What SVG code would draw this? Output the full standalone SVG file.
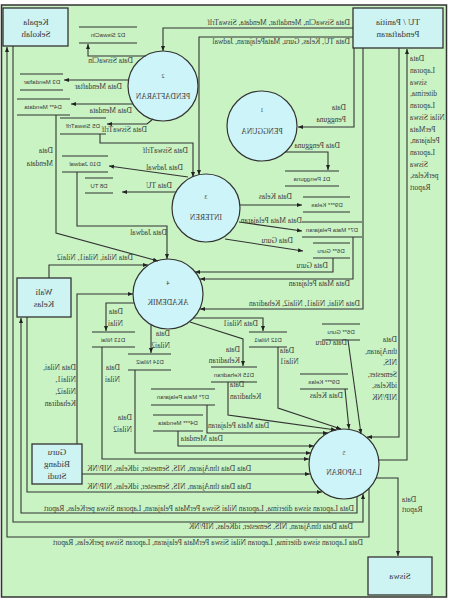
<svg xmlns="http://www.w3.org/2000/svg" width="450" height="605" viewBox="0 0 450 605">
<style>
text{fill:#3a3a3a;transform:scale(-1,1)}
.e{font:9px "Liberation Serif",serif;text-anchor:middle}
.p{font:7.5px "Liberation Serif",serif;text-anchor:middle}
.n{font:6px "Liberation Serif",serif;text-anchor:middle}
.s{font:6px "Liberation Sans",sans-serif;text-anchor:middle}
.l{font:7.5px "Liberation Serif",serif}
.r{text-anchor:start}
.lf{text-anchor:end}
.box{fill:#cdf3f3;stroke:#333;stroke-width:1.3}
.cir{fill:#cdf4f8;stroke:#333;stroke-width:1.2}
.st{fill:none;stroke:#333;stroke-width:1.2}
.c path{fill:none;stroke:#333;stroke-width:1.1;marker-end:url(#a)}
</style>
<defs>
<marker id="a" viewBox="0 0 10 10" refX="10" refY="5" markerWidth="5" markerHeight="5" orient="auto" markerUnits="userSpaceOnUse"><path d="M0,1L10,5L0,9z" fill="#222"/></marker>
</defs>
<rect x="0" y="0" width="450" height="605" fill="#fff"/>
<rect x="1.5" y="5" width="445" height="592" fill="#c9f3c3" stroke="#333" stroke-width="1.5"/>

<g id="kepala"><rect class="box" x="3" y="8" width="65" height="38"/><text class="e" x="-36" y="25">Kepala</text><text class="e" x="-36" y="37">Sekolah</text></g>
<g id="tu"><rect class="box" x="353" y="8" width="90" height="40"/><text class="e" x="-398" y="25">TU / Panitia</text><text class="e" x="-398" y="37">Pendaftaran</text></g>
<g id="wali"><rect class="box" x="17" y="278" width="54" height="39"/><text class="e" x="-44" y="295">Wali</text><text class="e" x="-44" y="307">Kelas</text></g>
<g id="guru"><rect class="box" x="32" y="444" width="50" height="40"/><text class="e" x="-57" y="455">Guru</text><text class="e" x="-57" y="467">Bidang</text><text class="e" x="-57" y="479">Studi</text></g>
<g id="siswa"><rect class="box" x="368" y="557" width="64" height="38"/><text class="e" x="-400" y="579">Siswa</text></g>

<g id="p2"><circle class="cir" cx="163" cy="86" r="35"/><text class="n" x="-163" y="78">2</text><text class="p" x="-163" y="99">PENDAFTARAN</text></g>
<g id="p1"><circle class="cir" cx="262" cy="126" r="35"/><text class="n" x="-262" y="112">1</text><text class="p" x="-262" y="134">PENGGUNA</text></g>
<g id="p3"><circle class="cir" cx="206" cy="208" r="34"/><text class="n" x="-206" y="199">3</text><text class="p" x="-206" y="220">INTEREN</text></g>
<g id="p4"><circle class="cir" cx="168" cy="294" r="35"/><text class="n" x="-168" y="285">4</text><text class="p" x="-168" y="305">AKADEMIK</text></g>
<g id="p5"><circle class="cir" cx="344" cy="464" r="35"/><text class="n" x="-344" y="455">5</text><text class="p" x="-344" y="475">LAPORAN</text></g>

<g id="d2"><path class="st" d="M79,27H137M79,43H137"/><text class="s" x="-108" y="37">D2 SiswaCln</text></g>
<g id="d3"><path class="st" d="M20,74H63M20,90H63"/><text class="s" x="-42" y="84">D3 Mendaftar</text></g>
<g id="d4"><path class="st" d="M17,99H70M17,115H70"/><text class="s" x="-43" y="109">D4** Mendata</text></g>
<g id="d5"><path class="st" d="M60,118H106M60,134H106"/><text class="s" x="-83" y="128">D5 SiswaTrlf</text></g>
<g id="d10"><path class="st" d="M62,156H108M62,172H108"/><text class="s" x="-85" y="166">D10 Jadwal</text></g>
<g id="d8"><path class="st" d="M85,178H113M85,193H113"/><text class="s" x="-99" y="188">D8 TU</text></g>
<g id="d1"><path class="st" d="M285,171H339M285,186H339"/><text class="s" x="-312" y="181">D1 Pengguna</text></g>
<g id="d9"><path class="st" d="M303,197H350M303,212H350"/><text class="s" x="-327" y="207">D9*** Kelas</text></g>
<g id="d7"><path class="st" d="M302,222H362M302,237H362"/><text class="s" x="-332" y="232">D7* Mata Pelajaran</text></g>
<g id="d6"><path class="st" d="M313,243H350M313,258H350"/><text class="s" x="-331" y="253">D6** Guru</text></g>
<g id="d13"><path class="st" d="M92,332H135M92,347H135"/><text class="s" x="-113" y="342">D13 Nilai</text></g>
<g id="d14"><path class="st" d="M128,354H171M128,370H171"/><text class="s" x="-150" y="364">D14 Nilai2</text></g>
<g id="d12"><path class="st" d="M249,332H287M249,347H287"/><text class="s" x="-268" y="342">D12 Nilai1</text></g>
<g id="d15"><path class="st" d="M211,367H257M211,382H257"/><text class="s" x="-234" y="377">D15 Kehadiran</text></g>
<g id="d7b"><path class="st" d="M151,389H215M151,405H215"/><text class="s" x="-183" y="399">D7* Mata Pelajaran</text></g>
<g id="d4b"><path class="st" d="M153,415H203M153,431H203"/><text class="s" x="-178" y="425">D4*** Mendata</text></g>
<g id="d6b"><path class="st" d="M322,324H360M322,340H360"/><text class="s" x="-341" y="334">D6** Guru</text></g>
<g id="d9b"><path class="st" d="M300,374H348M300,389H348"/><text class="s" x="-324" y="384">D9*** Kelas</text></g>

<g id="connectors" class="c">
<path d="M353,28H163V51"/>
<path d="M353,37H199V175"/>
<path d="M354,48V127H298"/>
<path d="M285,152H328V170"/>
<path d="M146,56H88V44"/>
<path d="M129,80H64"/>
<path d="M133,104H71"/>
<path d="M153,119L147,124H107"/>
<path d="M100,134V143H193V177"/>
<path d="M188,177L109,166"/>
<path d="M176,192H122"/>
<path d="M77,172V226H167V259"/>
<path d="M56,115V233L158,261"/>
<path d="M240,205H302"/>
<path d="M239,222L302,231"/>
<path d="M225,239L303,251"/>
<path d="M333,258V272H195"/>
<path d="M353,237V279H200"/>
<path d="M363,48V309H200"/>
<path d="M49,278V265H148"/>
<path d="M77,444V294H133"/>
<path d="M134,303H106V331"/>
<path d="M151,325V353"/>
<path d="M193,318H263V331"/>
<path d="M190,322L243,339V366"/>
<path d="M102,347V459H309"/>
<path d="M135,370V453H311"/>
<path d="M178,431V446H314"/>
<path d="M207,405V433H328"/>
<path d="M228,382V415L336,430"/>
<path d="M278,347V408L341,429"/>
<path d="M345,389L349,429"/>
<path d="M348,340L361,434"/>
<path d="M399,48V437H367"/>
<path d="M378,460H407V49"/>
<path d="M376,478H398V556"/>
<path d="M82,474H310"/>
<path d="M27,317V492H322"/>
<path d="M357,497V513H21V318"/>
<path d="M13,46V522H363V494"/>
<path d="M369,488V537H7V47"/>

<text class="l r" x="-350" y="25">Data SiswaCln, Mendaftar, Mendata, SiswaTrlf</text>
<text class="l r" x="-350" y="44">Data TU, Kelas, Guru, MataPelajaran, Jadwal</text>
<text class="l r" x="-346" y="110">Data</text><text class="l r" x="-346" y="122">Pengguna</text>
<text class="l r" x="-340" y="148">Data Pengguna</text>
<text class="l r" x="-133" y="63">Data SiswaCln</text>
<text class="l r" x="-122" y="89">Data Mendaftar</text>
<text class="l r" x="-132" y="113">Data Mendata</text>
<text class="l r" x="-147" y="132">Data SiswaTrlf</text>
<text class="l r" x="-188" y="153">Data SiswaTrlf</text>
<text class="l r" x="-183" y="170">Data Jadwal</text>
<text class="l r" x="-172" y="188">Data TU</text>
<text class="l r" x="-167" y="235">Data Jadwal</text>
<text class="l r" x="-53" y="153">Data</text><text class="l r" x="-53" y="166">Mendata</text>
<text class="l r" x="-292" y="199">Data Kelas</text>
<text class="l r" x="-302" y="223">Data Mata Pelajaran</text>
<text class="l r" x="-293" y="243">Data Guru</text>
<text class="l r" x="-328" y="268">Data Guru</text>
<text class="l r" x="-350" y="286">Data Mata Pelajaran</text>
<text class="l r" x="-360" y="306">Data Nilai, Nilai1, Nilai2, Kehadiran</text>
<text class="l r" x="-133" y="260">Data Nilai, Nilai1, Nilai2</text>
<text class="l r" x="-76" y="370">Data Nilai,</text><text class="l r" x="-76" y="382">Nilai1,</text><text class="l r" x="-76" y="394">Nilai2,</text><text class="l r" x="-76" y="406">Kehadiran</text>
<text class="l r" x="-123" y="314">Data</text><text class="l r" x="-123" y="326">Nilai</text>
<text class="l r" x="-170" y="336">Data</text><text class="l r" x="-170" y="348">Nilai2</text>
<text class="l r" x="-258" y="326">Data Nilai1</text>
<text class="l r" x="-240" y="352">Data</text><text class="l r" x="-240" y="363">Kehadiran</text>
<text class="l r" x="-120" y="370">Data</text><text class="l r" x="-120" y="382">Nilai</text>
<text class="l r" x="-132" y="420">Data</text><text class="l r" x="-132" y="432">Nilai2</text>
<text class="l r" x="-223" y="441">Data Mendata</text>
<text class="l lf" x="-208" y="428">Data Mata Pelajaran</text>
<text class="l lf" x="-230" y="387">Data</text><text class="l lf" x="-230" y="399">Kehadiran</text>
<text class="l lf" x="-280" y="353">Data</text><text class="l lf" x="-280" y="364">Nilai1</text>
<text class="l r" x="-343" y="398">Data Kelas</text>
<text class="l r" x="-347" y="345">Data Guru</text>
<text class="l r" x="-397" y="342">Data</text><text class="l r" x="-397" y="354">thnAjaran,</text><text class="l r" x="-397" y="365">NIS,</text><text class="l r" x="-397" y="377">Semester,</text><text class="l r" x="-397" y="388">idKelas,</text><text class="l r" x="-397" y="400">NIP/NK</text>
<text class="l lf" x="-410" y="61">Data</text><text class="l lf" x="-410" y="73">Laporan</text><text class="l lf" x="-410" y="85">siswa</text><text class="l lf" x="-410" y="96">diterima,</text><text class="l lf" x="-410" y="108">Laporan</text><text class="l lf" x="-410" y="120">Nilai Siswa</text><text class="l lf" x="-410" y="132">PerMata</text><text class="l lf" x="-410" y="143">Pelajaran,</text><text class="l lf" x="-410" y="155">Laporan</text><text class="l lf" x="-410" y="167">Siswa</text><text class="l lf" x="-410" y="178">perKelas,</text><text class="l lf" x="-410" y="190">Raport</text>
<text class="l lf" x="-87" y="471">Data Data thnAjaran, NIS, Semester, idKelas, NIP/NK</text>
<text class="l lf" x="-87" y="489">Data Data thnAjaran, NIS, Semester, idKelas, NIP/NK</text>
<text class="l r" x="-354" y="511">Data Laporan siswa diterima, Laporan Nilai Siswa PerMata Pelajaran, Laporan Siswa perKelas, Raport</text>
<text class="l r" x="-353" y="529">Data Data thnAjaran, NIS, Semester, idKelas, NIP/NK</text>
<text class="l r" x="-363" y="545">Data Laporan siswa diterima, Laporan Nilai Siswa PerMata Pelajaran, Laporan Siswa perKelas, Raport</text>
<text class="l lf" x="-402" y="502">Data</text><text class="l lf" x="-402" y="512">Raport</text>
</g>
</svg>
